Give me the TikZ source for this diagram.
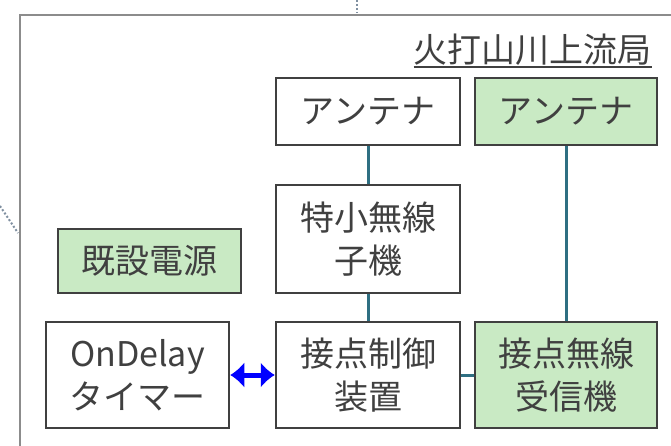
\documentclass[tikz,border=0pt]{standalone}
\usepackage{fontspec}
\setmainfont{Noto Sans CJK JP}
\usetikzlibrary{arrows.meta}
\definecolor{boxline}{HTML}{404040}
\definecolor{greenfill}{HTML}{C9EAC4}
\definecolor{tealline}{HTML}{2F6F82}
\definecolor{framegrey}{HTML}{8C8C8C}
\definecolor{txt}{HTML}{404040}
\definecolor{dotcol}{HTML}{7F8FA0}
\begin{document}
\begin{tikzpicture}[x=1pt,y=-1pt,
  box/.style={draw=boxline, line width=2.5pt, fill=white, text=txt,
    font=\fontsize{34}{43}\selectfont, align=center, inner sep=0pt},
  gbox/.style={box, fill=greenfill},
  link/.style={draw=tealline, line width=3pt},
  dots/.style={draw=dotcol, dotted, line width=2pt}]
\useasboundingbox (0,0) rectangle (671,446);
\begin{scope}
  \clip (0,0) rectangle (671,446);
  \draw[framegrey, line width=2pt] (20,470) -- (20,15) -- (700,15);
\end{scope}
\coordinate (t1) at (357,0);
\coordinate (t2) at (357,13);
\coordinate (l1) at (0,206);
\coordinate (l2) at (18,233);
\draw[dots] (t1) -- (t2);
\draw[dots] (l1) -- (l2);

\node[anchor=south east, inner sep=0pt, text=txt, font=\fontsize{34}{43}\selectfont] (title) at (652,66) {火打山川上流局};
\draw[txt, line width=1.5pt] ([yshift=-1pt]title.south west) -- ([yshift=-1pt]title.south east);

\node[box, minimum width=184pt, minimum height=67pt] (ant1) at (368,111.5) {アンテナ};
\node[gbox, minimum width=182pt, minimum height=67pt] (ant2) at (566,111.5) {アンテナ};
\node[box, minimum width=184pt, minimum height=108pt] (tok) at (368,239) {特小無線\\子機};
\node[gbox, minimum width=183pt, minimum height=64pt] (src) at (149.5,261) {既設電源};
\node[box, minimum width=183pt, minimum height=106pt] (timer) at (137.5,375) {OnDelay\\タイマー};
\node[box, minimum width=184pt, minimum height=106pt] (ctrl) at (368,375) {接点制御\\装置};
\node[gbox, minimum width=182pt, minimum height=106pt] (recv) at (566,375) {接点無線\\受信機};

\draw[link] (ant1) -- (tok);
\draw[link] (tok) -- (ctrl);
\draw[link] (ant2) -- (recv);
\draw[link] (ctrl) -- (recv);
\draw[blue, line width=5pt, {Latex[length=14pt,width=26pt]}-{Latex[length=14pt,width=26pt]}] (timer) -- (ctrl);
\end{tikzpicture}
\end{document}
